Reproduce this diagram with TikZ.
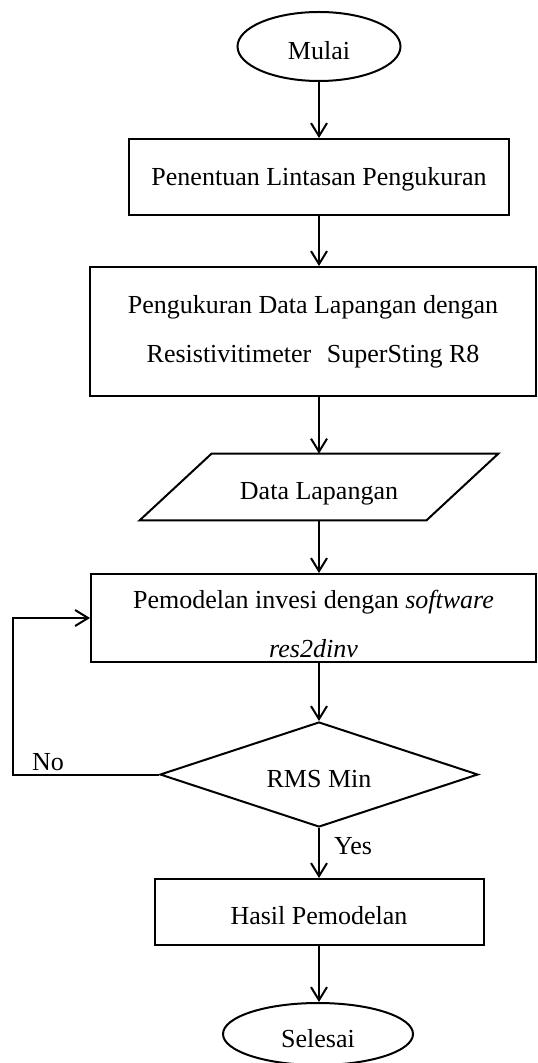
\documentclass[tikz,border=0pt]{standalone}
\usepackage{fontspec}
\setmainfont{Liberation Serif}
\usetikzlibrary{shapes.geometric,arrows.meta}
\begin{document}
\begin{tikzpicture}[x=0.5pt,y=-0.5pt,
  every node/.style={font=\fontsize{13}{24.7}\selectfont, inner sep=0pt},
  tpos/.style={text height=#1, text depth=0pt},
  line/.style={line width=1pt},
  arr/.style={line width=1pt,-{Straight Barb[length=6.5pt,width=8pt,line width=1pt]}},
  term/.style={draw,line width=1pt,ellipse},
  proc/.style={draw,line width=1pt,rectangle,align=center},
  dec/.style={draw,line width=1pt,diamond,aspect=3}]
\useasboundingbox (0,0) rectangle (537,1063);
\node[term,tpos=13.1pt,minimum width=81.5pt,minimum height=34.5pt] (start) at (319,46.5) {Mulai};
\node[proc,tpos=8.6pt,minimum width=190pt,minimum height=38pt] (b1) at (319,177) {Penentuan Lintasan Pengukuran};
\node[proc,minimum width=223pt,minimum height=64.5pt] (b2) at (313,331.5) {Pengukuran Data Lapangan dengan\\Resistivitimeter\hspace{0.35em} SuperSting R8};
\node[tpos=12.6pt,minimum width=179pt,minimum height=33pt] (pl) at (319,487) {Data Lapangan};
\draw[line] (pl.south west) -- ([xshift=36pt]pl.north west) -- (pl.north east) -- ([xshift=-36pt]pl.south east) -- cycle;
\node[proc,minimum width=222.5pt,minimum height=44pt] (b3) at (313.5,618) {};
\node[align=center] (b3t) at ([yshift=-3pt]b3.center) {Pemodelan invesi dengan \textit{software}\\\textit{res2dinv}};
\node[dec,tpos=13.3pt,minimum width=159pt,minimum height=52.5pt] (dia) at (319,774.5) {RMS Min};
\node[proc,tpos=12.6pt,minimum width=164.5pt,minimum height=33pt] (b4) at (319,912) {Hasil Pemodelan};
\node[term,tpos=13.6pt,minimum width=95pt,minimum height=31pt] (end) at (318,1034) {Selesai};
\node (yes) at (353,846) {Yes};
\node (no) at (48,762) {No};
\coordinate (lp) at (12.7,774.5);
\draw[arr] (start.south) -- (start.south |- b1.north);
\draw[arr] (b1.south) -- (b1.south |- b2.north);
\draw[arr] (b1.south |- b2.south) -- (pl.north);
\draw[arr] (pl.south) -- (pl.south |- b3.north);
\draw[arr] (pl.south |- b3.south) -- (dia.north);
\draw[arr] (dia.south) -- (dia.south |- b4.north);
\draw[arr] (b4.south) -- (b4.south |- end.north);
\draw[arr] (dia.west) -- (lp) |- (b3.west);
\end{tikzpicture}
\end{document}
